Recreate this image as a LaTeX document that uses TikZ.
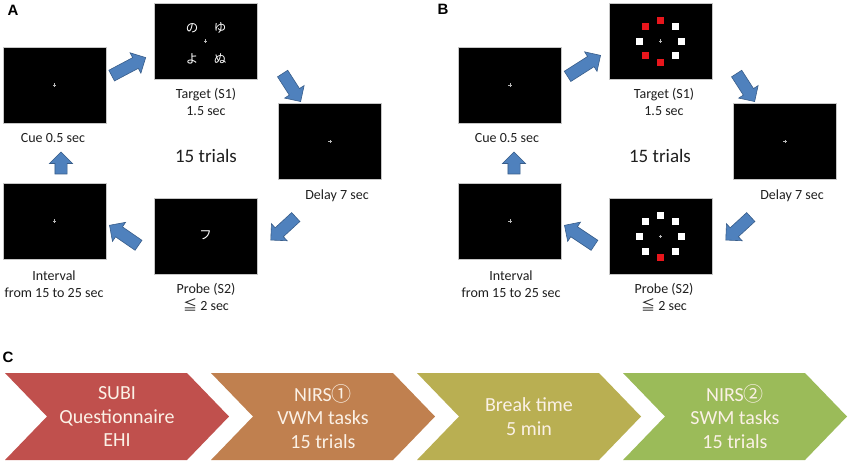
\documentclass[tikz,border=0pt]{standalone}
\usepackage{fontspec}
\setmainfont{Carlito}
\newfontfamily\jp{Noto Sans CJK JP}
\newfontfamily\panelfont{Liberation Sans}
\usetikzlibrary{shapes.arrows,calc}
\definecolor{arrfill}{HTML}{4F81BD}
\definecolor{arrdraw}{HTML}{385D8A}
\definecolor{chA}{HTML}{C0504D}
\definecolor{chB}{HTML}{C0804F}
\definecolor{chC}{HTML}{B9AF52}
\definecolor{chD}{HTML}{9BBB59}
\definecolor{chtext}{HTML}{FBF1E6}
\definecolor{sqred}{HTML}{E8161C}
\tikzset{
  screen/.style={fill=black, draw=gray!45, line width=0.4pt, minimum width=103pt, minimum height=76pt, inner sep=0pt},
  lbl/.style={font=\fontsize{14}{17}\selectfont, align=center, text=black!88, inner sep=0pt},
  big/.style={font=\fontsize{19}{22}\selectfont, text=black!88, inner sep=0pt},
  panel/.style={font=\panelfont\bfseries\fontsize{15}{17}\selectfont, inner sep=0pt},
  blockarr/.style={single arrow, fill=arrfill, draw=arrdraw, line width=0.6pt, inner xsep=0pt, inner ysep=5.75pt, single arrow head extend=5.5pt, minimum width=0pt},
  fixc/.style={draw=gray!55, line width=0.5pt},
  sq/.style={minimum size=7pt, inner sep=0pt},
  kana/.style={font=\jp\fontsize{12.5}{12.5}\selectfont, text=white, inner sep=0pt},
  chlbl/.style={font=\fontsize{20}{23.5}\selectfont, text=chtext, align=center, inner sep=0pt},
}
\newcommand\barrow[3]{\path let \p1=(#2), \p2=(#3), \n1={atan2(\y2-\y1,\x2-\x1)}, \n2={veclen(\x2-\x1,\y2-\y1)} in node[blockarr, minimum height=\n2, rotate=\n1] (#1) at ($(#2)!0.5!(#3)$) {};}
\newcommand\fixcross[1]{\draw[fixc] ([xshift=-1.6pt]#1.center) -- ([xshift=1.6pt]#1.center) ([yshift=-1.6pt]#1.center) -- ([yshift=1.6pt]#1.center);}
\newcommand\chevron[2]{\fill[#2] (#1,373) -- ++(182,0) -- ++(42,43.5) -- ++(-42,43.5) -- ++(-182,0) -- ++(42,-43.5) -- cycle;}
\begin{document}
\begin{tikzpicture}[x=1pt,y=-1pt]
\useasboundingbox[fill=white] (0,0) rectangle (850,464);

% ---------------- Panel A ----------------
\node[panel] (pA) at (13,10) {A};
\node[screen] (cueA) at (54.5,85) {};
\node[screen] (tgtA) at (205.5,41) {};
\node[screen] (delA) at (330,141.5) {};
\node[screen] (prbA) at (205.5,236.5) {};
\node[screen] (intA) at (54.5,221) {};
\fixcross{cueA}\fixcross{tgtA}\fixcross{delA}\fixcross{intA}
\node[kana] (k1) at (192,28) {の};
\node[kana] (k2) at (220,28) {ゆ};
\node[kana] (k3) at (192,59) {よ};
\node[kana] (k4) at (220,59) {ぬ};
\node[kana] (k5) at (205.7,235) {フ};

\node[lbl] (lcueA) at (53,138) {Cue 0.5 sec};
\node[lbl] (ltgtA) at (206,101.5) {Target (S1)\\1.5 sec};
\node[lbl] (ldelA) at (337,196) {Delay 7 sec};
\node[lbl] (lintA) at (54,284.5) {Interval\\from 15 to 25 sec};
\node[lbl] (lprbA) at (206,297.5) {Probe (S2)\\{\jp ≦} 2 sec};
\node[big] (trA) at (206,156) {15 trials};

\coordinate (a1s) at (109,77);  \coordinate (a1e) at (143,59);
\coordinate (a2s) at (281,71);  \coordinate (a2e) at (299,99);
\coordinate (a3s) at (298,215); \coordinate (a3e) at (273,238);
\coordinate (a4s) at (141,247); \coordinate (a4e) at (112,227);
\coordinate (a5s) at (61,177);  \coordinate (a5e) at (61,155);
\barrow{arA1}{a1s}{a1e}
\barrow{arA2}{a2s}{a2e}
\barrow{arA3}{a3s}{a3e}
\barrow{arA4}{a4s}{a4e}
\barrow{arA5}{a5s}{a5e}

% ---------------- Panel B ----------------
\node[panel] (pB) at (443,9) {B};
\node[screen] (cueB) at (510,85) {};
\node[screen] (tgtB) at (660.5,41) {};
\node[screen] (delB) at (785,141.5) {};
\node[screen] (prbB) at (660.5,236.5) {};
\node[screen] (intB) at (510,221) {};
\fixcross{cueB}\fixcross{tgtB}\fixcross{delB}\fixcross{intB}\fixcross{prbB}
\foreach \a/\c [count=\i] in {270/sqred,225/sqred,135/sqred,90/sqred,315/white,0/white,45/white,180/white}
  \node[sq, fill=\c] (tsq\i) at ($(tgtB.center)+(\a:21)$) {};
\foreach \a/\c [count=\i] in {90/sqred,270/white,225/white,135/white,315/white,0/white,45/white,180/white}
  \node[sq, fill=\c] (psq\i) at ($(prbB.center)+(\a:21)$) {};

\node[lbl] (lcueB) at (507,138) {Cue 0.5 sec};
\node[lbl] (ltgtB) at (664,101.5) {Target (S1)\\1.5 sec};
\node[lbl] (ldelB) at (792,196) {Delay 7 sec};
\node[lbl] (lintB) at (511,284.5) {Interval\\from 15 to 25 sec};
\node[lbl] (lprbB) at (664,297.5) {Probe (S2)\\{\jp ≦} 2 sec};
\node[big] (trB) at (660,156) {15 trials};

\coordinate (b1s) at (565,78);  \coordinate (b1e) at (598,57);
\coordinate (b2s) at (735,71);  \coordinate (b2e) at (753,99);
\coordinate (b3s) at (753,215); \coordinate (b3e) at (728,238);
\coordinate (b4s) at (597,247); \coordinate (b4e) at (567,227);
\coordinate (b5s) at (514,177); \coordinate (b5e) at (514,155);
\barrow{arB1}{b1s}{b1e}
\barrow{arB2}{b2s}{b2e}
\barrow{arB3}{b3s}{b3e}
\barrow{arB4}{b4s}{b4e}
\barrow{arB5}{b5s}{b5e}

% ---------------- Panel C ----------------
\node[panel] (pC) at (8,357) {C};
\chevron{5}{chA}
\chevron{211}{chB}
\chevron{417}{chC}
\chevron{623}{chD}
\node[chlbl] (t1) at (117,416.5) {SUBI\\Questionnaire\\EHI};
\node[chlbl] (t2) at (323,416.5) {NIRS{\jp ①}\\VWM tasks\\15 trials};
\node[chlbl] (t3) at (529,416.5) {Break time\\5 min};
\node[chlbl] (t4) at (735,416.5) {NIRS{\jp ②}\\SWM tasks\\15 trials};
\end{tikzpicture}
\end{document}
